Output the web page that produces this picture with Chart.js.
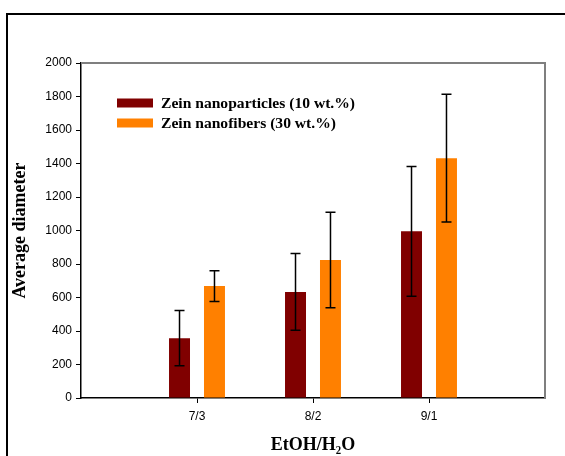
<!DOCTYPE html>
<html>
<head>
<meta charset="utf-8">
<script src="https://cdn.jsdelivr.net/npm/chart.js@4"></script>
<style>
    body { margin: 0; background: #fff; overflow: hidden; }
    #frame {
        position: absolute; left: 6px; top: 13px; width: 700px; height: 600px;
        border-left: 2px solid #000; border-top: 2px solid #000;
    }
    #chart { position: absolute; left: 0; top: 0; }
</style>
</head>
<body>
<div id="frame"></div>
<canvas id="chart" width="565" height="456"></canvas>
<script>
const categories = ["7/3", "8/2", "9/1"];
const nanoparticles = [357, 633, 995];
const nanoparticlesErr = [165, 229, 387];
const nanofibers = [668, 824, 1432];
const nanofibersErr = [92, 285, 381];
const yTicks = { min: 0, max: 2000, step: 200 };

// empty slots either side so the three groups sit where the reference puts them
const labels = ["", ...categories, ""];
const pad = (arr) => [null, ...arr, null];

const errorBars = {
    id: "errorBars",
    afterDatasetsDraw(chart) {
        const { ctx } = chart;
        const y = chart.scales.y;
        chart.data.datasets.forEach((ds, i) => {
            const meta = chart.getDatasetMeta(i);
            meta.data.forEach((bar, j) => {
                const v = ds.data[j];
                if (v == null) return;
                const e = ds.errors[j];
                const top = y.getPixelForValue(v + e);
                const bottom = y.getPixelForValue(v - e);
                ctx.save();
                ctx.strokeStyle = "#000";
                ctx.lineWidth = 1.5;
                ctx.beginPath();
                ctx.moveTo(bar.x, top);
                ctx.lineTo(bar.x, bottom);
                ctx.moveTo(bar.x - 5, top);
                ctx.lineTo(bar.x + 5, top);
                ctx.moveTo(bar.x - 5, bottom);
                ctx.lineTo(bar.x + 5, bottom);
                ctx.stroke();
                ctx.restore();
            });
        });
    }
};

const plotFrame = {
    id: "plotFrame",
    beforeDatasetsDraw(chart) {
        const { ctx, chartArea: a } = chart;
        ctx.save();
        ctx.strokeStyle = "#7f7f7f";
        ctx.lineWidth = 2;
        ctx.beginPath();
        ctx.moveTo(a.left, a.top);
        ctx.lineTo(a.right, a.top);
        ctx.lineTo(a.right, a.bottom);
        ctx.stroke();
        ctx.restore();
    }
};

const boxLegend = {
    id: "boxLegend",
    afterDraw(chart) {
        const { ctx } = chart;
        ctx.save();
        ctx.font = "bold 15.6px 'Liberation Serif', 'Times New Roman', serif";
        ctx.textBaseline = "middle";
        chart.data.datasets.forEach((ds, i) => {
            const cy = 103 + i * 20;
            ctx.fillStyle = ds.backgroundColor;
            ctx.fillRect(117, cy - 4.5, 36, 9);
            ctx.fillStyle = "#000";
            ctx.fillText(ds.label, 161, cy + 1);
        });
        ctx.restore();
    }
};

new Chart(document.getElementById("chart"), {
    type: "bar",
    data: {
        labels: labels,
        datasets: [
            {
                label: "Zein nanoparticles (10 wt.%)",
                data: pad(nanoparticles),
                errors: pad(nanoparticlesErr),
                backgroundColor: "#800000",
                categoryPercentage: 0.603,
                barPercentage: 0.6
            },
            {
                label: "Zein nanofibers (30 wt.%)",
                data: pad(nanofibers),
                errors: pad(nanofibersErr),
                backgroundColor: "#ff8000",
                categoryPercentage: 0.603,
                barPercentage: 0.6
            }
        ]
    },
    options: {
        responsive: false,
        animation: false,
        layout: { padding: { left: 0, right: 20, top: 63, bottom: 0 } },
        plugins: {
            legend: { display: false },
            tooltip: { enabled: false }
        },
        scales: {
            x: {
                offset: false,
                afterFit: (scale) => { scale.height = 58; },
                grid: {
                    offset: false,
                    drawOnChartArea: false,
                    tickLength: 5,
                    color: (c) => (c.index === 0 || c.index === labels.length - 1 ? "rgba(0,0,0,0)" : "#000")
                },
                border: { color: "#000", width: 1.5 },
                ticks: {
                    color: "#000",
                    padding: 6,
                    maxRotation: 0,
                    font: { family: "'Liberation Sans', Arial, sans-serif", size: 12 }
                },
                title: {
                    display: true,
                    text: "EtOH/H₂O",
                    color: "#000",
                    padding: { top: 0, bottom: 0 },
                    font: { family: "'Liberation Serif', 'Times New Roman', serif", size: 18, weight: "bold" }
                }
            },
            y: {
                min: yTicks.min,
                max: yTicks.max,
                afterFit: (scale) => { scale.width = 81; },
                grid: { drawOnChartArea: false, tickLength: 5, color: "#000" },
                border: { color: "#000", width: 1.5 },
                ticks: {
                    stepSize: yTicks.step,
                    color: "#000",
                    padding: 4,
                    callback: (value) => String(value),
                    font: { family: "'Liberation Sans', Arial, sans-serif", size: 12 }
                },
                title: {
                    display: true,
                    text: "Average diameter",
                    color: "#000",
                    padding: { top: 10, bottom: 0 },
                    font: { family: "'Liberation Serif', 'Times New Roman', serif", size: 18, weight: "bold" }
                }
            }
        }
    },
    plugins: [plotFrame, errorBars, boxLegend]
});
</script>
</body>
</html>
